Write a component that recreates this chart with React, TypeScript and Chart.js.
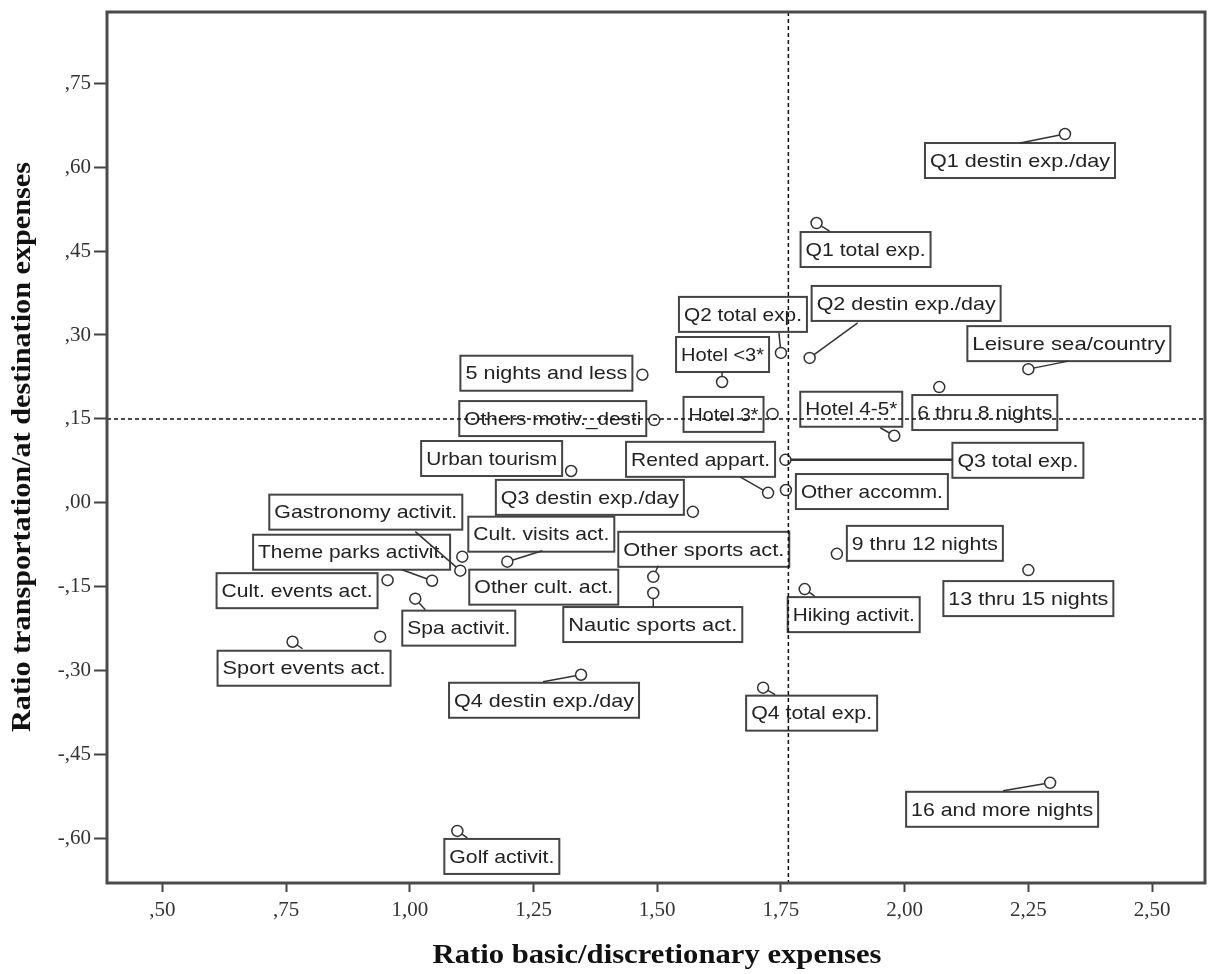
import { useEffect, useRef } from "react";
import { Chart, registerables } from "chart.js";

Chart.register(...registerables);

// ---- data ----
const pointNames = [
  "Q1 destin exp./day",
  "Q1 total exp.",
  "Q2 destin exp./day",
  "Q2 total exp.",
  "Hotel <3*",
  "Leisure sea/country",
  "5 nights and less",
  "6 thru 8 nights",
  "Others motiv._desti",
  "Hotel 3*",
  "Hotel 4-5*",
  "Q3 total exp.",
  "Urban tourism",
  "Rented appart.",
  "Other accomm.",
  "Q3 destin exp./day",
  "Gastronomy activit.",
  "Other cult. act.",
  "Cult. visits act.",
  "Theme parks activit.",
  "Cult. events act.",
  "Other sports act.",
  "Nautic sports act.",
  "9 thru 12 nights",
  "13 thru 15 nights",
  "Spa activit.",
  "Hiking activit.",
  "Sport events act.",
  "",
  "Q4 destin exp./day",
  "Q4 total exp.",
  "16 and more nights",
  "Golf activit.",
];

const xValues = [
  2.324, 1.822, 1.808, 1.75, 1.631, 2.25, 1.47, 2.07, 1.494, 1.733, 1.979,
  1.759, 1.326, 1.724, 1.76, 1.572, 1.102, 1.106, 1.197, 1.045, 0.955, 1.492,
  1.492, 1.863, 2.25, 1.011, 1.798, 0.763, 0.94, 1.346, 1.714, 2.294, 1.096,
];

const yValues = [
  0.659, 0.5, 0.259, 0.268, 0.216, 0.239, 0.229, 0.207, 0.148, 0.159, 0.12,
  0.077, 0.057, 0.018, 0.023, -0.016, -0.121, -0.096, -0.105, -0.139, -0.138,
  -0.132, -0.161, -0.091, -0.12, -0.171, -0.154, -0.248, -0.239, -0.307,
  -0.33, -0.5, -0.586,
];

const xTickValues = [0.5, 0.75, 1.0, 1.25, 1.5, 1.75, 2.0, 2.25, 2.5];
const xTickLabels = [",50", ",75", "1,00", "1,25", "1,50", "1,75", "2,00", "2,25", "2,50"];
const yTickValues = [0.75, 0.6, 0.45, 0.3, 0.15, 0, -0.15, -0.3, -0.45, -0.6];
const yTickLabels = [",75", ",60", ",45", ",30", ",15", ",00", "-,15", "-,30", "-,45", "-,60"];

const xReference = 1.765;
const yReference = 0.15;

const xTitle = "Ratio basic/discretionary expenses";
const yTitle = "Ratio transportation/at destination expenses";

// ---- label layout (pixels relative to each point): [boxDx, boxDy, boxWidth, leaderDx, leaderDy]
const labelLayout: (number[] | null)[] = [
  [-140, 9, 190, -45, 9],
  [-16, 9, 130, 13, 8],
  [2, -72, 189, 48, -35],
  [-102, -56, 128, -2, -20],
  [-46, -45, 93, 0, -10],
  [-61, -43, 203, 40, -8],
  [-182, -19, 172],
  [-27, 8, 145],
  [-195, -19, 187],
  [-89, -17, 80],
  [-94, -44, 102, -14, -8],
  [167, -17, 131, 167, 0],
  [-150, -30, 141],
  [-142, -51, 149, -28, -16],
  [10, -16, 152],
  [-197, -32, 188],
  [-191, -76, 193, -45, -39],
  [7, 13, 149],
  [-39, -45, 146, 35, -11],
  [-179, -46, 197, -30, -11],
  [-171, -7, 161],
  [-35, -45, 171, 5, -11],
  [-90, 14, 179, 0, 14],
  [10, -28, 156],
  [-85, 11, 170],
  [-13, 12, 113, 10, 11],
  [-17, 8, 132, 10, 7],
  [-75, 9, 173, 10, 7],
  null,
  [-132, 8, 190, -38, 7],
  [-17, 8, 131, 12, 7],
  [-144, 9, 192, -47, 8],
  [-13, 8, 115, 10, 7],
];

const BOX_H = 35;
const FRAME = "#4a4a4a";
const PLOT_RIGHT = 1205;

const labelPlugin = {
  id: "pointLabels",
  afterLayout(chart: any) {
    const xs = chart.scales.x;
    if (xs && xs.right !== PLOT_RIGHT) {
      xs.right = PLOT_RIGHT;
      xs.width = xs.right - xs.left;
      xs.configure();
      chart.chartArea.right = PLOT_RIGHT;
      chart.chartArea.width = PLOT_RIGHT - chart.chartArea.left;
    }
  },
  beforeDatasetsDraw(chart: any) {
    const { ctx, scales } = chart;
    const xs = scales.x;
    const ys = scales.y;
    ctx.save();
    for (let i = 0; i < pointNames.length; i++) {
      const lay = labelLayout[i];
      if (!lay || !pointNames[i]) continue;
      const px = xs.getPixelForValue(xValues[i]);
      const py = ys.getPixelForValue(yValues[i]);
      const bx = px + lay[0];
      const by = py + lay[1];
      const w = lay[2];
      ctx.fillStyle = "#ffffff";
      ctx.fillRect(bx, by, w, BOX_H);
      ctx.strokeStyle = "#444";
      ctx.lineWidth = 2;
      ctx.strokeRect(bx, by, w, BOX_H);
      ctx.font = '19px "Liberation Sans", Arial, sans-serif';
      const tw = ctx.measureText(pointNames[i]).width;
      const sx = (w - 10) / tw;
      ctx.save();
      ctx.translate(bx + 5, by + BOX_H / 2 + 1);
      ctx.scale(sx, 1);
      ctx.fillStyle = "#222";
      ctx.textBaseline = "middle";
      ctx.textAlign = "left";
      ctx.fillText(pointNames[i], 0, 0);
      ctx.restore();
    }
    for (let i = 0; i < pointNames.length; i++) {
      const lay = labelLayout[i];
      if (!lay || lay.length < 5) continue;
      const px = xs.getPixelForValue(xValues[i]);
      const py = ys.getPixelForValue(yValues[i]);
      ctx.beginPath();
      ctx.strokeStyle = "#333";
      ctx.lineWidth = i === 11 ? 2.5 : 1.5;
      ctx.moveTo(px, py);
      ctx.lineTo(px + lay[3], py + lay[4]);
      ctx.stroke();
    }
    ctx.restore();
  },
  afterDatasetsDraw(chart: any) {
    const { ctx, chartArea, scales } = chart;
    const { left, right, top, bottom } = chartArea;
    ctx.save();
    ctx.strokeStyle = "#111";
    ctx.lineWidth = 1.5;
    ctx.setLineDash([4, 3]);
    const rx = scales.x.getPixelForValue(xReference);
    const ry = scales.y.getPixelForValue(yReference);
    ctx.beginPath();
    ctx.moveTo(rx, top);
    ctx.lineTo(rx, bottom);
    ctx.moveTo(left, ry);
    ctx.lineTo(right, ry);
    ctx.stroke();
    ctx.setLineDash([]);
    ctx.strokeStyle = FRAME;
    ctx.lineWidth = 3;
    ctx.strokeRect(left, top, right - left, bottom - top);
    ctx.restore();
  },
  afterDraw(chart: any) {
    const { ctx, chartArea } = chart;
    ctx.save();
    ctx.fillStyle = "#111";
    ctx.font = 'bold 28px "Liberation Serif", "Times New Roman", serif';
    ctx.textAlign = "center";
    ctx.textBaseline = "middle";
    const cx = (chartArea.left + chartArea.right) / 2 + 1;
    const xw = ctx.measureText(xTitle).width;
    ctx.save();
    ctx.translate(cx, 956);
    ctx.scale(449 / xw, 1);
    ctx.fillText(xTitle, 0, 0);
    ctx.restore();
    const yw = ctx.measureText(yTitle).width;
    ctx.save();
    ctx.translate(23, 447);
    ctx.rotate(-Math.PI / 2);
    ctx.scale(570 / yw, 1);
    ctx.fillText(yTitle, 0, 0);
    ctx.restore();
    ctx.restore();
  },
};

export default function App() {
  const canvasRef = useRef<HTMLCanvasElement | null>(null);

  useEffect(() => {
    if (!canvasRef.current) return;
    const data = xValues.map((v, i) => ({ x: v, y: yValues[i] }));
    const chart = new Chart(canvasRef.current, {
      type: "scatter",
      data: {
        datasets: [
          {
            data,
            pointRadius: 5.5,
            pointHoverRadius: 5.5,
            pointBorderWidth: 1.5,
            pointBorderColor: "#333",
            pointBackgroundColor: "#ffffff",
            showLine: false,
            clip: false,
          },
        ],
      },
      options: {
        responsive: false,
        animation: false,
        layout: { padding: { left: 0, top: 12, right: 3, bottom: 0 } },
        plugins: {
          legend: { display: false },
          tooltip: { enabled: false },
          title: { display: false },
        },
        scales: {
          x: {
            type: "linear",
            min: 0.388,
            max: 2.607,
            afterFit: (s: any) => {
              s.height = 91;
              s.paddingLeft = 0;
              s.paddingRight = 0;
            },
            afterBuildTicks: (s: any) => {
              s.ticks = xTickValues.map((v) => ({ value: v }));
            },
            border: { display: false },
            grid: {
              display: true,
              drawOnChartArea: false,
              drawTicks: true,
              tickLength: 9,
              tickWidth: 2,
              tickColor: "#444",
            },
            ticks: {
              padding: 6,
              color: "#333",
              font: { family: '"Liberation Serif", serif', size: 21 },
              callback: (v: any) => {
                const i = xTickValues.findIndex((t) => Math.abs(t - Number(v)) < 1e-6);
                return i >= 0 ? xTickLabels[i] : "";
              },
            },
          },
          y: {
            type: "linear",
            min: -0.679,
            max: 0.877,
            afterFit: (s: any) => {
              s.width = 107;
              s.paddingTop = 0;
              s.paddingBottom = 0;
            },
            afterBuildTicks: (s: any) => {
              s.ticks = yTickValues.map((v) => ({ value: v }));
            },
            border: { display: false },
            grid: {
              display: true,
              drawOnChartArea: false,
              drawTicks: true,
              tickLength: 13,
              tickWidth: 2,
              tickColor: "#444",
            },
            ticks: {
              padding: 3,
              color: "#333",
              font: { family: '"Liberation Serif", serif', size: 21 },
              callback: (v: any) => {
                const i = yTickValues.findIndex((t) => Math.abs(t - Number(v)) < 1e-6);
                return i >= 0 ? yTickLabels[i] : "";
              },
            },
          },
        },
      },
      plugins: [labelPlugin],
    });
    return () => chart.destroy();
  }, []);

  return (
    <div style={{ position: "absolute", left: 0, top: 0, width: 1208, height: 974, background: "#fff" }}>
      <canvas ref={canvasRef} width={1208} height={974} style={{ display: "block" }} />
    </div>
  );
}
